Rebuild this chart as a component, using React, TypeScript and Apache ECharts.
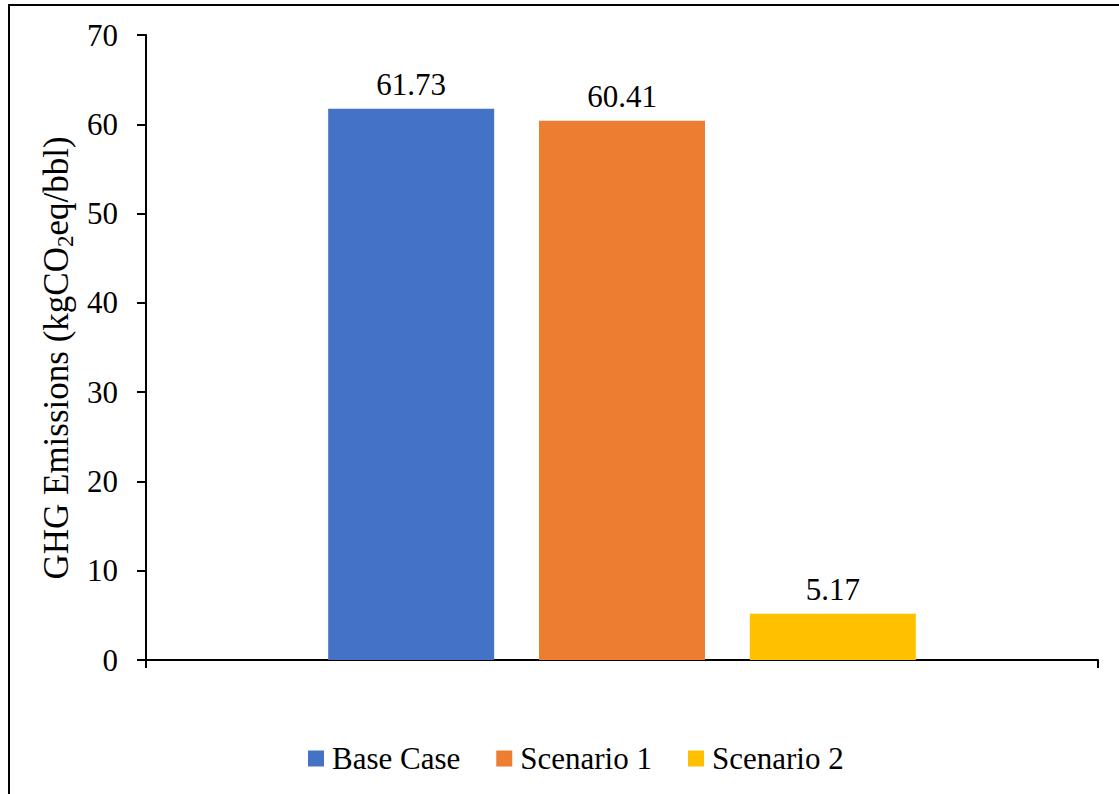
import React, { useEffect, useRef } from "react";
import * as echarts from "echarts";

// Scenario names, emission values (kgCO2eq/bbl) and bar colours
const seriesNames = ["Base Case", "Scenario 1", "Scenario 2"];
const emissions = [61.73, 60.41, 5.17];
const barColors = ["#4472C4", "#ED7D31", "#FFC000"];
const categories = [""];
const yTicks = { min: 0, max: 70, interval: 10 };

const FONT = "'Liberation Serif', 'Times New Roman', serif";

export default function App() {
  const ref = useRef<HTMLDivElement>(null);

  useEffect(() => {
    if (!ref.current) return;
    const chart = echarts.init(ref.current, undefined, { renderer: "svg" });

    const series = seriesNames.map((name, i) => ({
      name,
      type: "bar" as const,
      data: [emissions[i]],
      barWidth: 166,
      barGap: "27%",
      itemStyle: { color: barColors[i] },
      label: {
        show: true,
        position: "top" as const,
        distance: 9,
        fontFamily: FONT,
        fontSize: 31,
        color: "#000",
        formatter: (p: any) => p.value.toFixed(2),
      },
    }));

    chart.setOption({
      animation: false,
      backgroundColor: "#fff",
      textStyle: { fontFamily: FONT },
      grid: { left: 146, right: 21, top: 35, bottom: 134, containLabel: false },
      legend: {
        data: seriesNames,
        top: 738,
        left: 303,
        icon: "rect",
        itemWidth: 16,
        itemHeight: 16,
        itemGap: 36,
        textStyle: { fontFamily: FONT, fontSize: 31, color: "#000", padding: [0, 0, 0, 3] },
      },
      xAxis: {
        type: "category",
        data: categories,
        axisLine: { lineStyle: { color: "#000", width: 2 } },
        axisTick: { show: true, length: 8, lineStyle: { color: "#000", width: 2 } },
        axisLabel: { show: false },
        splitLine: { show: false },
      },
      yAxis: {
        type: "value",
        min: yTicks.min,
        max: yTicks.max,
        interval: yTicks.interval,
        axisLine: { show: true, lineStyle: { color: "#000", width: 2 } },
        axisTick: { show: true, length: 9, lineStyle: { color: "#000", width: 2 } },
        axisLabel: { margin: 28, fontFamily: FONT, fontSize: 31, color: "#000" },
        splitLine: { show: false },
      },
      graphic: [
        {
          type: "rect",
          shape: { x: 9, y: 5, width: 1300, height: 1000 },
          style: { fill: "none", stroke: "#000", lineWidth: 2 },
          silent: true,
        },
        {
          type: "text",
          x: 56,
          y: 358,
          rotation: Math.PI / 2,
          style: {
            text: "GHG Emissions (kgCO{sub|2}eq/bbl)",
            fontFamily: FONT,
            fontSize: 35,
            fill: "#000",
            align: "center",
            verticalAlign: "middle",
            lineHeight: 42,
            rich: {
              sub: { fontSize: 23, fontFamily: FONT, fill: "#000", verticalAlign: "bottom", lineHeight: 28 },
            },
          },
          silent: true,
        },
      ],
      series,
    });

    return () => chart.dispose();
  }, []);

  return (
    <div
      ref={ref}
      style={{ position: "fixed", left: 0, top: 0, width: 1119, height: 794, background: "#fff" }}
    />
  );
}
